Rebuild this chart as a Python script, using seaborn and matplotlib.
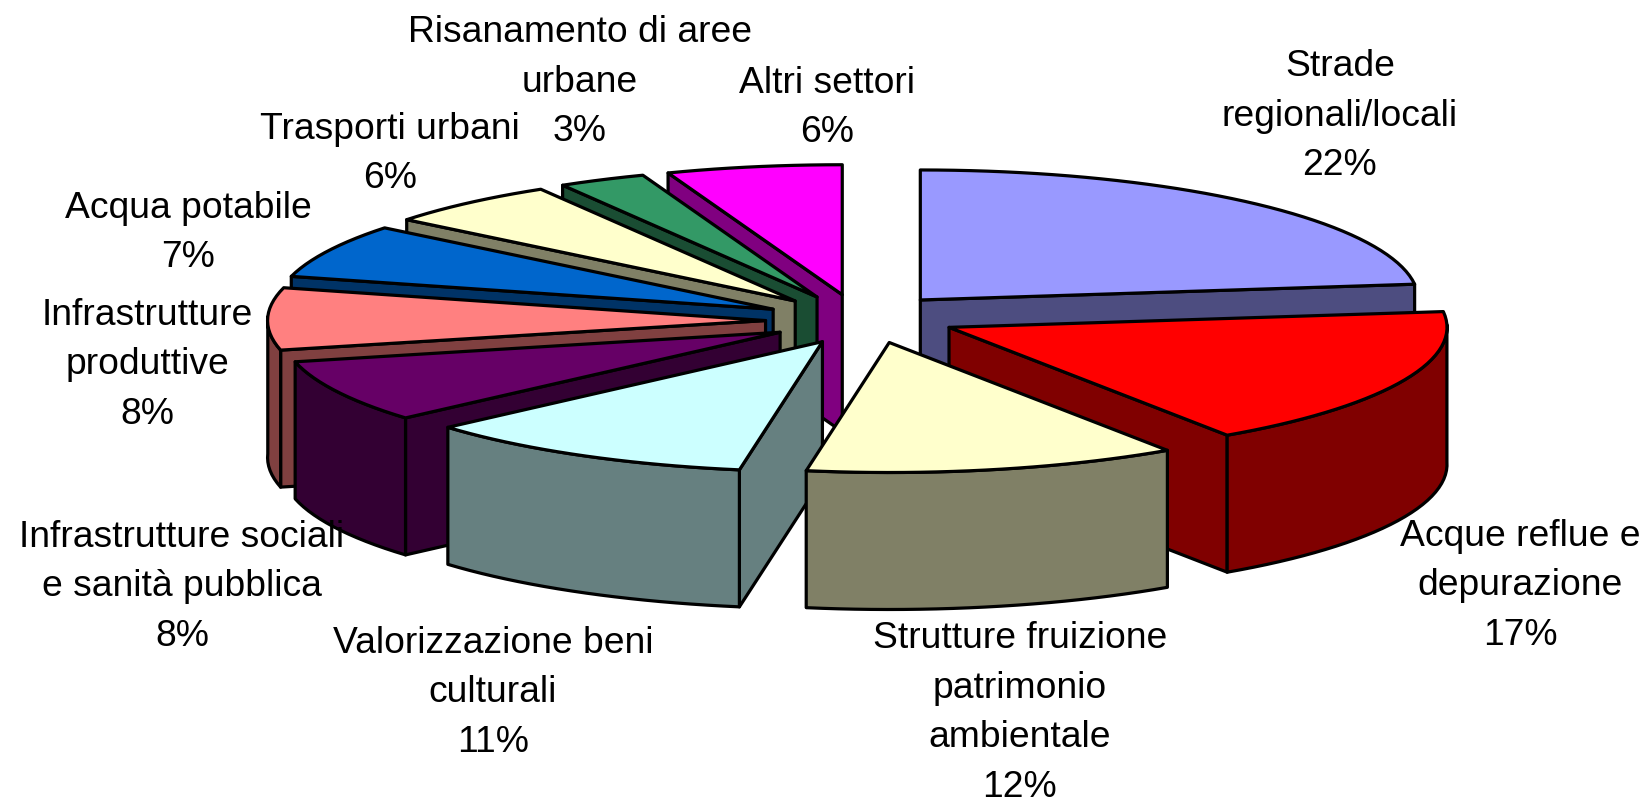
import numpy as np
import matplotlib
matplotlib.use("Agg")
import matplotlib.pyplot as plt
from matplotlib.patches import Polygon
import seaborn as sns

sns.set_theme(style="white")
plt.rcParams['font.family'] = ['Liberation Sans', 'DejaVu Sans']

categories = ["Strade\nregionali/locali", "Acque reflue e\ndepurazione",
              "Strutture fruizione\npatrimonio\nambientale", "Valorizzazione beni\nculturali",
              "Infrastrutture sociali\ne sanità pubblica", "Infrastrutture\nproduttive",
              "Acqua potabile", "Trasporti urbani", "Risanamento di aree\nurbane", "Altri settori"]
shares = [22, 17, 12, 11, 8, 8, 7, 6, 3, 6]
top_colors = ["#9999FF", "#FF0000", "#FFFFCC", "#CCFFFF", "#660066",
              "#FF8080", "#0066CC", "#FFFFCC", "#339966", "#FF00FF"]
label_xy = [(1340, 116), (1520, 586), (1020, 713), (493, 693), (182, 587),
            (147, 365), (188, 233), (390, 154), (580, 82), (827, 108)]

palette = sns.color_palette(top_colors)
CX, CY, RX, RY, DEPTH, EXPLODE = 860, 320, 498, 130, 137, 0.19
draw_order = [9, 8, 7, 6, 5, 4, 0, 1, 3, 2]

fig = plt.figure(figsize=(16.46, 8.03), dpi=100)
ax = fig.add_axes([0, 0, 1, 1])
ax.set_xlim(0, 1646)
ax.set_ylim(803, 0)
ax.axis("off")

def warp(t):
    return t + np.radians(6) * np.sin(t / 2)

edges = np.radians(np.concatenate([[0], np.cumsum(shares)]) * 3.6)
for i in draw_order:
    a0, a1 = edges[i], edges[i + 1]
    mid = (a0 + a1) / 2
    ax0 = CX + EXPLODE * RX * np.sin(mid)
    ay0 = CY - EXPLODE * RY * np.cos(mid)
    th = warp(np.linspace(a0, a1, max(6, shares[i] * 2)))
    rim = np.column_stack([ax0 + RX * np.sin(th), ay0 - RY * np.cos(th)])
    apex = np.array([ax0, ay0])
    down = np.array([0, DEPTH])
    side = tuple(0.5 * c for c in palette[i])
    kw = dict(edgecolor="black", linewidth=2.3, joinstyle="round")
    # only the cut faces turned towards the viewer are drawn
    if np.sin(th[0]) < 0:
        p = rim[0]
        ax.add_patch(Polygon([apex, p, p + down, apex + down], facecolor=side, **kw))
    if np.sin(th[-1]) > 0:
        p = rim[-1]
        ax.add_patch(Polygon([apex, p, p + down, apex + down], facecolor=side, **kw))
    front = np.cos(th) < 0.03
    if front.any():
        r = rim[front]
        ax.add_patch(Polygon(np.vstack([r, (r + down)[::-1]]), facecolor=side, **kw))
    ax.add_patch(Polygon(np.vstack([apex, rim]), facecolor=palette[i], **kw))

for name, share, (x, y) in zip(categories, shares, label_xy):
    ax.text(x, y, f"{name}\n{share}%", ha="center", va="center", fontsize=26.8,
            color="black", linespacing=1.55)

fig.savefig("out.png", dpi=100, facecolor="white")
